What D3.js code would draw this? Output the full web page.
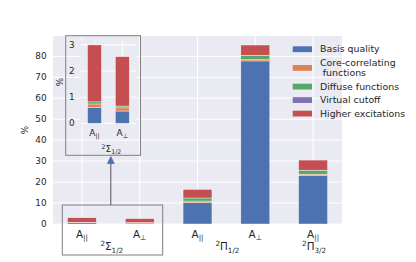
<!DOCTYPE html>
<html>
<head>
<meta charset="utf-8">
<script src="https://cdn.jsdelivr.net/npm/d3@7"></script>
<style>
  body { margin: 0; background: #fff; }
  svg { display: block; font-family: "DejaVu Sans", sans-serif; }
</style>
</head>
<body>
<div id="container"></div>
<script>
// ---- data ----
const tickMain = ["A", "A", "A", "A", "A"];
const tickSub = ["||", "\u22a5", "||", "\u22a5", "||"];
const stateSym = ["\u03a3", "\u03a0", "\u03a0"];
const stateSub = ["1/2", "1/2", "3/2"];
const stateBars = [[0, 1], [2, 3], [4, 4]];

const seriesNames = ["Basis quality", "Core-correlating\n functions", "Diffuse functions", "Virtual cutoff", "Higher excitations"];
const seriesColors = ["#4c72b0", "#dd8452", "#55a868", "#8172b3", "#c44e52"];
const basis   = [0.61, 0.47, 10.1, 77.8, 23.0];
const core    = [0.13, 0.12, 0.85, 0.6, 0.8];
const diffuse = [0.08, 0.07, 1.45, 2.1, 1.9];
const virtual = [0, 0, 0, 0, 0];
const higher  = [2.18, 1.89, 4.1, 4.9, 4.8];

const yTicks = [0, 10, 20, 30, 40, 50, 60, 70, 80];
const insetTicks = [0, 1, 2, 3];
const insetBars = [0, 1];

// ---- layout ----
const width = 416, height = 262;
const textColor = "#262626";
const svg = d3.select("#container").append("svg")
  .attr("width", width).attr("height", height);

const table = tickMain.map((t, i) => ({
  i, b: basis[i], c: core[i], d: diffuse[i], v: virtual[i], h: higher[i]
}));
const keys = ["b", "c", "d", "v", "h"];
const stacked = d3.stack().keys(keys)(table);

const x = d3.scaleLinear().domain([-0.5, 4.5]).range([53, 342]);
const y = d3.scaleLinear().domain([0, 89.7]).range([224, 36]);
const barW = x(0.5) - x(0);

// main axes background + grid
svg.append("rect")
  .attr("x", x.range()[0]).attr("y", y.range()[1])
  .attr("width", x.range()[1] - x.range()[0])
  .attr("height", y.range()[0] - y.range()[1])
  .attr("fill", "#eaeaf2");

const grid = svg.append("g").attr("stroke", "#fff").attr("stroke-width", 1);
grid.selectAll("line.h").data(yTicks).join("line")
  .attr("x1", x.range()[0]).attr("x2", x.range()[1])
  .attr("y1", d => y(d)).attr("y2", d => y(d));
grid.selectAll("line.v").data(d3.range(tickMain.length)).join("line")
  .attr("x1", d => x(d)).attr("x2", d => x(d))
  .attr("y1", y.range()[0]).attr("y2", y.range()[1]);

// y tick labels
svg.append("g").attr("font-size", 8.8).attr("fill", textColor)
  .attr("text-anchor", "end")
  .selectAll("text").data(yTicks).join("text")
  .attr("x", x.range()[0] - 6.5).attr("y", d => y(d)).attr("dy", "0.35em")
  .text(d => d);

svg.append("text")
  .attr("transform", `translate(28,${(y.range()[0] + y.range()[1]) / 2}) rotate(-90)`)
  .attr("text-anchor", "middle").attr("font-size", 8.8).attr("fill", textColor)
  .text("%");

// stacked bars
const drawBars = (g, xs, ys, idx, w) => {
  g.selectAll("g").data(stacked).join("g")
    .attr("fill", (d, k) => seriesColors[k])
    .selectAll("rect").data(d => d.filter(p => idx.includes(p.data.i)))
    .join("rect")
    .attr("x", p => xs(p.data.i) - w / 2)
    .attr("width", w)
    .attr("y", p => ys(p[1]))
    .attr("height", p => Math.max(0, ys(p[0]) - ys(p[1])))
    .attr("stroke", "#fff").attr("stroke-width", 0.4);
};
drawBars(svg.append("g"), x, y, d3.range(tickMain.length), barW);

// x tick labels with subscripts
const tickLabel = (g, yy, fs) => g.append("text").attr("font-size", fs)
  .attr("fill", textColor).attr("text-anchor", "middle").attr("y", yy);

const xlab = svg.append("g");
tickMain.forEach((t, i) => {
  const tx = tickLabel(xlab, 237.5, 10.4).attr("x", x(i));
  tx.append("tspan").text(t);
  tx.append("tspan").attr("font-size", 7.2).attr("dy", 2.5).text(tickSub[i]);
});
stateSym.forEach((s, k) => {
  const cx = (x(stateBars[k][0]) + x(stateBars[k][1])) / 2;
  const tx = tickLabel(xlab, 250, 10.4).attr("x", cx + 1);
  tx.append("tspan").attr("font-size", 7.2).attr("dy", -4).text("2");
  tx.append("tspan").attr("dy", 4).text(s);
  tx.append("tspan").attr("font-size", 7.2).attr("dy", 2.5).text(stateSub[k]);
});

// ---- inset ----
const xi = d3.scaleLinear().domain([-0.5, 1.5]).range([80.6, 136.2]);
const yi = d3.scaleLinear().domain([0, 3.15]).range([123.3, 41]);
const inset = svg.append("g");
inset.append("rect")
  .attr("x", xi.range()[0]).attr("y", yi.range()[1])
  .attr("width", xi.range()[1] - xi.range()[0])
  .attr("height", yi.range()[0] - yi.range()[1])
  .attr("fill", "#eaeaf2");
const gi = inset.append("g").attr("stroke", "#fff").attr("stroke-width", 1);
gi.selectAll("line.h").data(insetTicks).join("line")
  .attr("x1", xi.range()[0]).attr("x2", xi.range()[1])
  .attr("y1", d => yi(d)).attr("y2", d => yi(d));
gi.selectAll("line.v").data(insetBars).join("line")
  .attr("x1", d => xi(d)).attr("x2", d => xi(d))
  .attr("y1", yi.range()[0]).attr("y2", yi.range()[1]);
drawBars(inset.append("g"), xi, yi, insetBars, xi(0.5) - xi(0));

inset.append("g").attr("font-size", 8.8).attr("fill", textColor)
  .attr("text-anchor", "end")
  .selectAll("text").data(insetTicks).join("text")
  .attr("x", xi.range()[0] - 6).attr("y", d => yi(d)).attr("dy", "0.35em")
  .text(d => d);
inset.append("text")
  .attr("transform", `translate(63,${(yi.range()[0] + yi.range()[1]) / 2}) rotate(-90)`)
  .attr("text-anchor", "middle").attr("font-size", 8.8).attr("fill", textColor)
  .text("%");
insetBars.forEach(i => {
  const tx = tickLabel(inset, 135.7, 9).attr("x", xi(i));
  tx.append("tspan").text(tickMain[i]);
  tx.append("tspan").attr("font-size", 6.2).attr("dy", 2).text(tickSub[i]);
});
{
  const tx = tickLabel(inset, 152, 9).attr("x", (xi(0) + xi(1)) / 2 + 3);
  tx.append("tspan").attr("font-size", 6.2).attr("dy", -3.5).text("2");
  tx.append("tspan").attr("dy", 3.5).text(stateSym[0]);
  tx.append("tspan").attr("font-size", 6.2).attr("dy", 2).text(stateSub[0]);
}

// frames + arrow
const frameColor = "#7f7f7f";
svg.append("rect").attr("x", 65.7).attr("y", 35.7).attr("width", 74.8).attr("height", 119.6)
  .attr("fill", "none").attr("stroke", frameColor).attr("stroke-width", 1);
svg.append("rect").attr("x", 62.3).attr("y", 205).attr("width", 100.4).attr("height", 50)
  .attr("fill", "none").attr("stroke", frameColor).attr("stroke-width", 1);
const ax = (x(0) + x(1)) / 2;
svg.append("line").attr("x1", ax).attr("x2", ax).attr("y1", 205).attr("y2", 160)
  .attr("stroke", "#555").attr("stroke-width", 1);
svg.append("path")
  .attr("d", `M${ax},156.5 L${ax - 3.5},163.5 L${ax + 3.5},163.5 Z`)
  .attr("fill", "#4c72b0").attr("stroke", "#3a5a90").attr("stroke-width", 0.5);

// ---- legend ----
const legend = svg.append("g").attr("font-size", 9.4).attr("fill", textColor);
const lineH = 10.4, gap = 3.1;
let ly = 44;
seriesNames.forEach((name, k) => {
  const lines = name.split("\n");
  const cy = ly + lines.length * lineH / 2;
  legend.append("rect")
    .attr("x", 292.7).attr("y", cy - 2.9).attr("width", 19.3).attr("height", 5.8)
    .attr("fill", seriesColors[k]);
  lines.forEach((ln, j) => {
    legend.append("text")
      .attr("x", 320 + (ln.startsWith(" ") ? 2.8 : 0))
      .attr("y", ly + lineH * j + lineH / 2).attr("dy", "0.35em")
      .text(ln.trim());
  });
  ly += lines.length * lineH + gap;
});
</script>
</body>
</html>
